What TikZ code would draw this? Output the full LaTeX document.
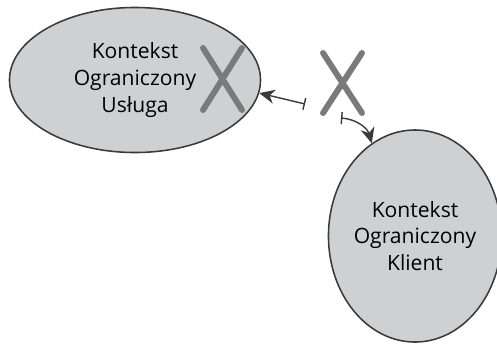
\documentclass[tikz,border=0pt]{standalone}
\usepackage{fontspec}
\setmainfont{Open Sans}
\usetikzlibrary{shapes.geometric,arrows.meta}
\definecolor{ctxfill}{HTML}{CFD0D2}
\definecolor{ctxline}{HTML}{3A3A3A}
\definecolor{crossgray}{HTML}{7A7A7A}
\tikzset{
context/.style={
	  draw=ctxline, line width=1.1pt, fill=ctxfill, ellipse,
	    inner sep=0pt, align=center, font=\fontsize{15}{19}\selectfont},
cross/.style={draw=crossgray, line width=4.2pt, line cap=round},
blocked/.style={draw=ctxline, line width=1pt, {Bar[width=8.5pt]}-{Stealth[length=11pt,width=10pt,inset=3.5pt]}}
}

\begin{document}
\begin{tikzpicture}[x=0.025cm, y=-0.025cm]
	\useasboundingbox (0,0) rectangle (497,343);
	\node[context, minimum width=6.275cm, minimum height=3.625cm] (usluga) at (135,80)
		{Kontekst\\Ograniczony\\Usługa};
	\node[context, minimum width=4.05cm, minimum height=5.3cm] (klient) at (415,236)
		{Kontekst\\Ograniczony\\Klient};
	% skreslenia
	\draw[cross] (203,48) -- (242,110) (242,48) -- (203,110);
	\draw[cross] (323,53) -- (362,113) (362,53) -- (323,113);
	% polaczenia
	\coordinate (odUslugi) at (305,104);
	\coordinate (odKlienta) at (341,118);
	\draw[blocked] (odUslugi) -- (usluga.-6);
	\draw[blocked] (odKlienta) to[bend left=35] (klient.115);
\end{tikzpicture}
\end{document}
